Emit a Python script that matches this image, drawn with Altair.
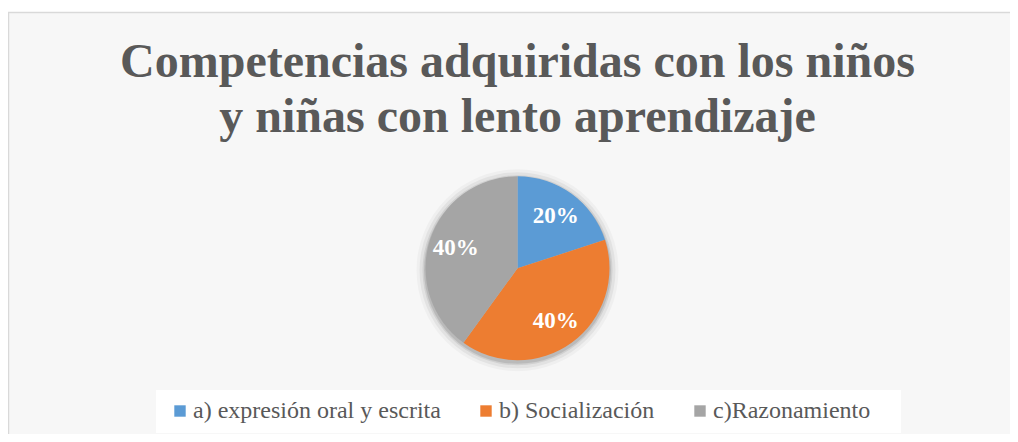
import altair as alt
import pandas as pd

# ---- data ----
CATEGORIES = ["a) expresión oral y escrita", "b) Socialización", "c)Razonamiento"]
VALUES = [20, 40, 40]
COLORS = ["#5B9BD5", "#ED7D31", "#A5A5A5"]
TITLE_LINES = ["Competencias adquiridas con los niños", "y niñas con lento aprendizaje"]

df = pd.DataFrame({
    "categoria": CATEGORIES,
    "valor": VALUES,
    "orden": list(range(len(CATEGORIES))),
})

W, H = 1002, 422
CX, CY = 509.5, 256.3
R = 92
SERIF = "'Times New Roman', 'Liberation Serif', Tinos, serif"
GREY_TXT = "#595959"

one = alt.Data(values=[{}])

# decorative border (top + left)
border_left = alt.Chart(one).mark_rule(color="#d9d9d9", strokeWidth=1.5).encode(
    x=alt.value(0.5), y=alt.value(0), y2=alt.value(H))
border_top = alt.Chart(one).mark_rule(color="#d9d9d9", strokeWidth=1.5).encode(
    x=alt.value(0), x2=alt.value(W), y=alt.value(0.5))

# title
title = alt.Chart(one).mark_text(
    font=SERIF, fontSize=48, fontWeight="bold", color=GREY_TXT,
    align="center", baseline="alphabetic", lineHeight=55
).encode(x=alt.value(CX), y=alt.value(64.7), text=alt.value(TITLE_LINES))

# soft shadow around the pie
shadows = []
for rr, op in [(101, 0.03), (98, 0.05), (95, 0.08), (93.5, 0.10)]:
    shadows.append(
        alt.Chart(one).mark_arc(radius=rr, theta=0, theta2=6.2832, color="#000000", opacity=op)
        .encode(x=alt.value(CX), y=alt.value(CY + 2))
    )

# legend background box
legend_box = alt.Chart(one).mark_rect(color="#ffffff").encode(
    x=alt.value(148), x2=alt.value(893), y=alt.value(378), y2=alt.value(421))

base = alt.Chart(df).encode(
    theta=alt.Theta("valor:Q", stack=True),
    order=alt.Order("orden:Q"),
    x=alt.value(CX), y=alt.value(CY),
)

pie = base.mark_arc(radius=R).encode(
    color=alt.Color(
        "categoria:N",
        scale=alt.Scale(domain=CATEGORIES, range=COLORS),
        legend=alt.Legend(
            title=None, orient="none", legendX=160, legendY=387,
            direction="horizontal", symbolType="square", symbolSize=130,
            symbolStrokeWidth=0, labelFont=SERIF, labelFontSize=24,
            labelColor=GREY_TXT, labelOffset=1, columnPadding=33,
            labelLimit=400,
        ),
    )
)

labels = base.transform_calculate(
    etiqueta="datum.valor + '%'"
).mark_text(
    radius=65, font=SERIF, fontSize=23, fontWeight="bold", color="#ffffff",
    align="center", baseline="middle"
).encode(text="etiqueta:N")

chart = alt.layer(
    border_left, border_top, title, *shadows, legend_box, pie, labels
).properties(
    width=W, height=H,
    padding={"left": 0, "top": 4, "right": 0, "bottom": 0},
    autosize=alt.AutoSizeParams(type="none"),
).configure_view(
    fill="#f7f7f7", stroke="transparent"
)

chart.save("out.html", embed_options={"renderer": "svg", "actions": False})
